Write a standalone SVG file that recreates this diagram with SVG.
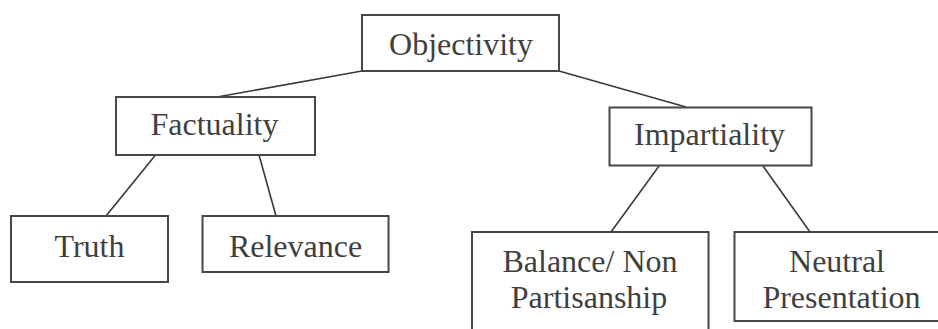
<svg xmlns="http://www.w3.org/2000/svg" width="938" height="329" viewBox="0 0 938 329">
<style>
.box{fill:#ffffff;stroke:#474747;stroke-width:2}
.lbl{fill:#3f3f3f;text-anchor:middle;font-family:'Liberation Serif','Times New Roman',serif;font-size:32px}
.edge{stroke:#3a3a3a;stroke-width:1.6;fill:none}
</style>
<rect width="938" height="329" fill="#ffffff"/>
<g id="connectors">
<line class="edge" x1="362" y1="71" x2="217" y2="97"/>
<line class="edge" x1="559" y1="71" x2="686" y2="107"/>
<line class="edge" x1="155.5" y1="155" x2="106" y2="216"/>
<line class="edge" x1="259" y1="155" x2="276" y2="216"/>
<line class="edge" x1="659" y1="166" x2="611" y2="232"/>
<line class="edge" x1="763" y1="166" x2="810" y2="232"/>
</g>
<g id="objectivity">
<rect class="box" x="362" y="15" width="197" height="56"/>
<text class="lbl" x="461" y="55">Objectivity</text>
</g>
<g id="factuality">
<rect class="box" x="116" y="97" width="199" height="58"/>
<text class="lbl" x="214.5" y="135">Factuality</text>
</g>
<g id="impartiality">
<rect class="box" x="609.5" y="107.5" width="202" height="58"/>
<text class="lbl" x="709.5" y="145">Impartiality</text>
</g>
<g id="truth">
<rect class="box" x="11" y="216" width="157" height="66"/>
<text class="lbl" x="89.5" y="257">Truth</text>
</g>
<g id="relevance">
<rect class="box" x="202.5" y="216" width="186" height="56"/>
<text class="lbl" x="295.5" y="257">Relevance</text>
</g>
<g id="balance">
<rect class="box" x="472" y="232" width="236.5" height="110"/>
<text class="lbl" x="590" y="272">Balance/ Non</text>
<text class="lbl" x="589" y="308">Partisanship</text>
</g>
<g id="neutral">
<rect class="box" x="734.5" y="232" width="210" height="89"/>
<text class="lbl" x="837" y="272">Neutral</text>
<text class="lbl" x="841.5" y="308">Presentation</text>
</g>
</svg>
